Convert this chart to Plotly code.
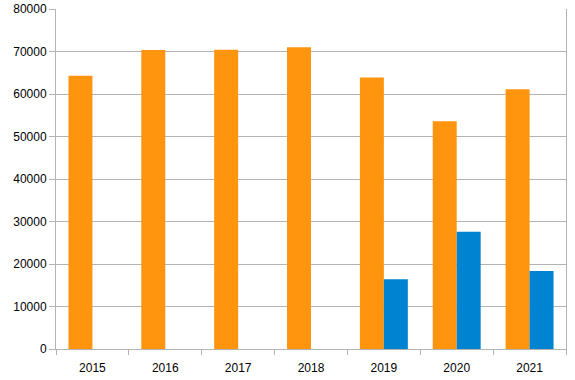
import plotly.graph_objects as go

years = ["2015", "2016", "2017", "2018", "2019", "2020", "2021"]
series_a = [64300, 70350, 70400, 71000, 63900, 53600, 61100]
series_b = [None, None, None, None, 16400, 27600, 18350]

fig = go.Figure()
fig.add_trace(go.Bar(x=years, y=series_a, marker=dict(color="#ff950e", line=dict(width=0)), showlegend=False))
fig.add_trace(go.Bar(x=years, y=series_b, marker=dict(color="#0084d1", line=dict(width=0)), showlegend=False))

fig.update_layout(
    width=575, height=380,
    margin=dict(l=56, r=9, t=9, b=31, autoexpand=False),
    paper_bgcolor="white", plot_bgcolor="white",
    barmode="group", bargap=0.342, bargroupgap=0,
    font=dict(family="Liberation Sans, Arial, sans-serif", size=12, color="black"),
    xaxis=dict(
        type="category", showgrid=False, showline=True, linecolor="#b3b3b3", linewidth=1,
        ticks="outside", tickson="boundaries", ticklen=5, tickcolor="#b3b3b3",
        mirror=False, tickfont=dict(size=12), automargin=False, ticklabelstandoff=8,
    ),
    yaxis=dict(
        range=[0, 80000], dtick=10000, showgrid=True, gridcolor="#b3b3b3", gridwidth=1,
        showline=True, linecolor="#b3b3b3", linewidth=1, mirror=True,
        ticks="outside", ticklen=6, tickcolor="#b3b3b3", zeroline=False,
        tickformat="d", tickfont=dict(size=12), automargin=False,
    ),
)

fig.write_html("out.html", config={"displayModeBar": False},
               post_script="document.body.style.margin='0';")
